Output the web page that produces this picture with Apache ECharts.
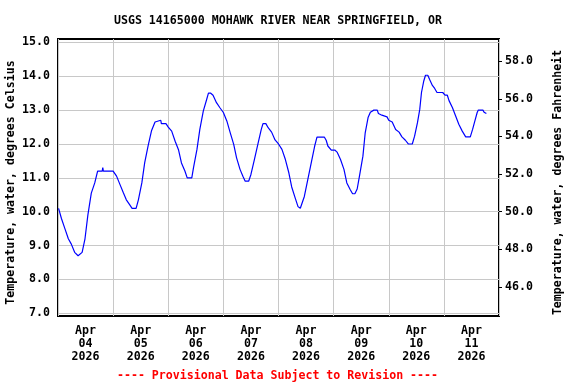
<!DOCTYPE html>
<html>
<head>
<meta charset="utf-8">
<script src="https://cdn.jsdelivr.net/npm/echarts@6/dist/echarts.min.js"></script>
<style>html,body{margin:0;padding:0;background:#fff}#c{width:576px;height:384px}</style>
</head>
<body>
<div id="c"></div>
<script>
const titleText = 'USGS 14165000 MOHAWK RIVER NEAR SPRINGFIELD, OR';
const footerText = '---- Provisional Data Subject to Revision ----';
const leftName = 'Temperature, water, degrees Celsius';
const rightName = 'Temperature, water, degrees Fahrenheit';
const dayLabels = ['Apr\n04\n2026','Apr\n05\n2026','Apr\n06\n2026','Apr\n07\n2026','Apr\n08\n2026','Apr\n09\n2026','Apr\n10\n2026','Apr\n11\n2026'];
const celsiusTicks = [7, 8, 9, 10, 11, 12, 13, 14, 15];
const fahrenheitTicks = [46, 48, 50, 52, 54, 56, 58];
const celsiusMin = 6.92, celsiusMax = 15.1;
// hours since 2026-04-04 00:00 (local)
const hours = [
  0.25, 1.5, 3, 4.5, 5.75, 7.25, 8.75, 9.5, 10.5, 11.75,
  13, 14.5, 16, 17.25, 18, 19.25, 19.5, 19.75, 24, 25.5,
  27, 28.5, 29.75, 31.25, 32.25, 34, 35, 36.5, 37.75, 39.25,
  40.75, 42.25, 43, 44.75, 45, 47, 48, 49.5, 51, 52.5,
  53.75, 55.25, 56.25, 58.25, 59, 60.5, 61.75, 63.25, 64.75, 65.5,
  66.5, 67.5, 69, 70.5, 72, 73.5, 75, 76.5, 77.75, 79.25,
  80.5, 81.5, 83, 84, 85.5, 87, 88.5, 89.25, 90.5, 91.5,
  93, 94.5, 96, 97.5, 99, 100.5, 101.75, 103.25, 104.5, 105.5,
  106.25, 107.25, 108.75, 110.25, 111.75, 112.75, 116, 116.75, 117.5, 119,
  120.5, 121.5, 123, 124.5, 125.75, 127.25, 128.25, 129.25, 130.25, 131.25,
  132.75, 133.75, 135, 136, 137.5, 139, 139.5, 141, 143.25, 144,
  145.5, 147, 148.5, 149.75, 151.25, 152.5, 154.25, 155.25, 156.5, 157.5,
  158.25, 159.25, 160, 161, 161.75, 163, 164, 165, 167.5, 168.5,
  169.5, 170.25, 171.75, 173, 174.5, 176, 177.5, 179.5, 180.5, 181.5,
  182.5, 183, 185, 185.5, 186.5
];
const temps = [
  10.1, 9.8, 9.5, 9.2, 9.05, 8.8, 8.7, 8.7, 8.8, 9.2,
  9.9, 10.55, 10.85, 11.2, 11.2, 11.2, 11.3, 11.2, 11.2, 11.05,
  10.8, 10.55, 10.35, 10.2, 10.1, 10.1, 10.35, 10.85, 11.45, 11.95,
  12.4, 12.65, 12.7, 12.7, 12.6, 12.6, 12.5, 12.38, 12.08, 11.82,
  11.44, 11.2, 11.0, 11.0, 11.3, 11.84, 12.43, 12.97, 13.32, 13.5,
  13.5, 13.44, 13.22, 13.07, 12.93, 12.68, 12.33, 11.99, 11.59, 11.25,
  11.05, 10.9, 10.9, 11.1, 11.54, 11.99, 12.43, 12.6, 12.6, 12.48,
  12.35, 12.12, 12.0, 11.84, 11.54, 11.15, 10.73, 10.41, 10.15, 10.1,
  10.15, 10.45, 10.95, 11.44, 11.94, 12.2, 12.2, 12.11, 11.94, 11.82,
  11.82, 11.76, 11.54, 11.25, 10.85, 10.65, 10.53, 10.53, 10.67, 11.05,
  11.64, 12.33, 12.78, 12.94, 13.0, 13.0, 12.9, 12.85, 12.8, 12.7,
  12.65, 12.43, 12.35, 12.21, 12.11, 12.0, 12.0, 12.23, 12.63, 13.02,
  13.52, 13.86, 14.03, 14.03, 13.91, 13.73, 13.64, 13.52, 13.52, 13.44,
  13.44, 13.28, 13.07, 12.85, 12.58, 12.38, 12.21, 12.21, 12.43, 12.68,
  12.93, 13.0, 13.0, 12.94, 12.9
];

const FONT = 'DejaVu Sans Mono';
const FS = 11.6;
const chart = echarts.init(document.getElementById('c'), null, {renderer: 'canvas'});
const seriesData = hours.map((h, i) => [h, temps[i]]);
chart.setOption({
  animation: false,
  backgroundColor: '#ffffff',
  graphic: [
    {type: 'text', x: 278, y: 21, style: {text: titleText, align: 'center', verticalAlign: 'middle',
      fontFamily: FONT, fontWeight: 'bold', fontSize: FS, fill: '#000'}},
    {type: 'text', x: 277.5, y: 375.5, style: {text: footerText, align: 'center', verticalAlign: 'middle',
      fontFamily: FONT, fontWeight: 'bold', fontSize: FS, fill: '#ff0000'}}
  ],
  grid: {left: 58, right: 77, top: 39, bottom: 68, show: true, borderColor: '#000', borderWidth: 2,
         backgroundColor: 'transparent', containLabel: false, outerBoundsMode: 'none'},
  xAxis: [
    {type: 'category', data: dayLabels, boundaryGap: true, position: 'bottom',
     axisLine: {show: false}, axisTick: {show: false},
     axisLabel: {interval: 0, margin: 9, fontFamily: FONT, fontWeight: 'bold', fontSize: FS, color: '#000', lineHeight: 12.8},
     splitLine: {show: true, interval: 0, lineStyle: {color: '#c8c8c8', width: 1}}},
    {type: 'value', min: 0, max: 192, show: false}
  ],
  yAxis: [
    {type: 'value', min: celsiusMin, max: celsiusMax, position: 'left',
     name: leftName, nameLocation: 'middle', nameGap: 41, nameRotate: 90, nameMoveOverlap: false,
     nameTextStyle: {fontFamily: FONT, fontWeight: 'bold', fontSize: FS, color: '#000', padding: [0, 10, 0, 0]},
     axisLine: {show: false},
     axisTick: {show: false, customValues: celsiusTicks},
     axisLabel: {customValues: celsiusTicks, margin: 8, fontFamily: FONT, fontWeight: 'bold', fontSize: FS, color: '#000',
                 formatter: v => v.toFixed(1)},
     splitLine: {show: true, lineStyle: {color: '#c8c8c8', width: 1}}},
    {type: 'value', min: celsiusMin * 1.8 + 32, max: celsiusMax * 1.8 + 32, position: 'right',
     name: rightName, nameLocation: 'middle', nameGap: 53, nameRotate: 90, nameMoveOverlap: false,
     nameTextStyle: {fontFamily: FONT, fontWeight: 'bold', fontSize: FS, color: '#000', padding: [0, 10, 0, 0]},
     axisLine: {show: false},
     axisTick: {show: true, inside: false, length: 3, customValues: fahrenheitTicks, lineStyle: {color: '#000', width: 1}},
     axisLabel: {customValues: fahrenheitTicks, margin: 6, fontFamily: FONT, fontWeight: 'bold', fontSize: FS, color: '#000',
                 formatter: v => v.toFixed(1)},
     splitLine: {show: false}}
  ],
  series: [{
    type: 'line', xAxisIndex: 1, yAxisIndex: 0, data: seriesData,
    showSymbol: false, lineStyle: {color: '#0000ff', width: 1.2}, itemStyle: {color: '#0000ff'}
  }]
});
</script>
</body>
</html>
